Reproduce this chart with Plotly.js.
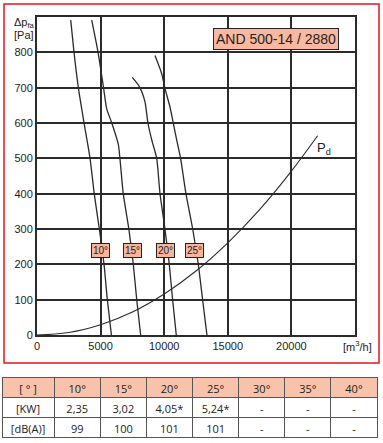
<!DOCTYPE html>
<html>
<head>
<meta charset="utf-8">
<script src="https://cdn.plot.ly/plotly-3.0.1.min.js"></script>
<style>html,body{margin:0;padding:0;background:#fff;}#chart{width:383px;height:443px;}</style>
</head>
<body>
<div id="chart"></div>
<script>
// ---- data ----
var flow10 = [2650, 2910, 3250, 3700, 4170, 4500, 4900, 5270, 5530, 5850];
var pres10 = [891, 800, 700, 600, 500, 400, 300, 200, 100, 0];

var flow15 = [4300, 4800, 5230, 5480, 5880, 6390, 6520, 6780, 7220, 7570, 7840, 8150];
var pres15 = [891, 800, 700, 640, 600, 540, 500, 400, 300, 200, 100, 0];

var flow20 = [7490, 8050, 8490, 8720, 9020, 9410, 9670, 10060, 10400, 10660, 10950];
var pres20 = [729, 703, 660, 600, 552, 500, 400, 300, 200, 100, 0];

var flow25 = [9275, 9800, 10060, 10450, 10715, 10980, 11290, 11710, 12240, 12680, 13020, 13360];
var pres25 = [791, 740, 698, 646, 600, 552, 500, 400, 300, 200, 100, 0];

var flowPd = [0, 2500, 5000, 7500, 10000, 12500, 15000, 17500, 20000, 22060];
var presPd = [0, 7, 29, 65, 116, 181, 261, 355, 464, 564];

var angleLabels = ["10°", "15°", "20°", "25°"];
var angleLabelFlow = [5000, 7500, 10090, 12420];
var angleLabelPres = 240;

var xTicks = [0, 5000, 10000, 15000, 20000];
var yTicks = [0, 100, 200, 300, 400, 500, 600, 700, 800];

var tableHeader = ["[ ° ]", "10°", "15°", "20°", "25°", "30°", "35°", "40°"];
var rowKW = ["[KW]", "2,35", "3,02", "4,05*", "5,24*", "-", "-", "-"];
var rowDB = ["[dB(A)]", "99", "100", "101", "101", "-", "-", "-"];

var titleText = "AND 500-14 / 2880";

// ---- layout helpers ----
var W = 383, H = 443;
function px(x) { return x / W; }
function py(y) { return (H - y) / H; }

var curveStyle = {color: "#2a2a2a", width: 1.3, shape: "spline", smoothing: 0.6};
function curve(xs, ys) {
  return {type: "scatter", mode: "lines", x: xs, y: ys, line: curveStyle,
          hoverinfo: "skip", showlegend: false, xaxis: "x", yaxis: "y"};
}

var traces = [
  curve(flow10, pres10),
  curve(flow15, pres15),
  curve(flow20, pres20),
  curve(flow25, pres25),
  {type: "scatter", mode: "lines", x: flowPd, y: presPd,
   line: {color: "#2a2a2a", width: 1.1, shape: "spline"}, hoverinfo: "skip", showlegend: false}
];

var cellCols = tableHeader.map(function (_, i) { return [rowKW[i], rowDB[i]]; });
traces.push({
  type: "table",
  domain: {x: [px(2), px(377)], y: [py(441), py(377)]},
  columnwidth: [52, 46, 46, 46, 46, 46, 46, 46],
  header: {values: tableHeader, height: 20, align: "center",
           fill: {color: "#f9c2aa"}, line: {color: "#555", width: 1},
           font: {family: "Open Sans, Noto Sans, sans-serif", size: 11, color: "#222"}},
  cells: {values: cellCols, height: 20, align: "center",
          fill: {color: "#ffffff"}, line: {color: "#555", width: 1},
          font: {family: "Open Sans, Noto Sans, sans-serif", size: 11, color: "#222"}}
});

var FONT = "Liberation Sans, Arial, sans-serif";
function ann(o) {
  o.showarrow = false;
  if (!o.xanchor) o.xanchor = "center";
  if (!o.yanchor) o.yanchor = "middle";
  return o;
}
var annotations = [];
angleLabels.forEach(function (t, i) {
  annotations.push(ann({x: angleLabelFlow[i], y: angleLabelPres, xref: "x", yref: "y",
    text: t, bgcolor: "#f6b59c", bordercolor: "#222", borderwidth: 1,
    borderpad: 1, font: {family: FONT, size: 10, color: "#222"}}));
});
annotations.push(ann({x: px(276), y: py(38.5), xref: "paper", yref: "paper", text: titleText,
  bgcolor: "#fbb8a0", bordercolor: "#222", borderwidth: 1, borderpad: 2,
  font: {family: FONT, size: 14, color: "#222"}}));
annotations.push(ann({x: px(324), y: py(148), xref: "paper", yref: "paper", text: "P<sub>d</sub>",
  font: {family: FONT, size: 13, color: "#222"}}));
annotations.push(ann({x: px(357), y: py(346), xref: "paper", yref: "paper", text: "[m<sup>3</sup>/h]",
  font: {family: FONT, size: 11, color: "#222"}}));
annotations.push(ann({x: px(12), y: py(23), xref: "paper", yref: "paper", xanchor: "left",
  text: "Δp<sub>fa</sub>", font: {family: FONT, size: 11, color: "#222"}}));
annotations.push(ann({x: px(12), y: py(35), xref: "paper", yref: "paper", xanchor: "left",
  text: "[Pa]", font: {family: FONT, size: 11, color: "#222"}}));

var axisCommon = {showgrid: true, gridcolor: "#2b2b2b", gridwidth: 2,
  zeroline: false, showline: true, linecolor: "#2b2b2b", linewidth: 2, mirror: true,
  ticks: "", fixedrange: true, tickfont: {size: 11, color: "#222"}};

var layout = {
  width: W, height: H,
  margin: {l: 0, r: 0, t: 0, b: 0, pad: 0},
  paper_bgcolor: "#ffffff", plot_bgcolor: "#ffffff",
  showlegend: false,
  font: {family: FONT, size: 11, color: "#222"},
  xaxis: Object.assign({domain: [px(37), px(355)], range: [0, 25000], tickvals: xTicks,
          ticktext: xTicks.map(String)}, axisCommon),
  yaxis: Object.assign({domain: [py(335), py(17)], range: [0, 900], tickvals: yTicks}, axisCommon),
  shapes: [{type: "rect", xref: "paper", yref: "paper",
            x0: px(4), x1: px(379), y0: py(363), y1: py(4),
            line: {color: "#e3161f", width: 1.5}, fillcolor: "rgba(0,0,0,0)"}],
  annotations: annotations
};

Plotly.newPlot("chart", traces, layout, {displayModeBar: false, staticPlot: true});
</script>
</body>
</html>
